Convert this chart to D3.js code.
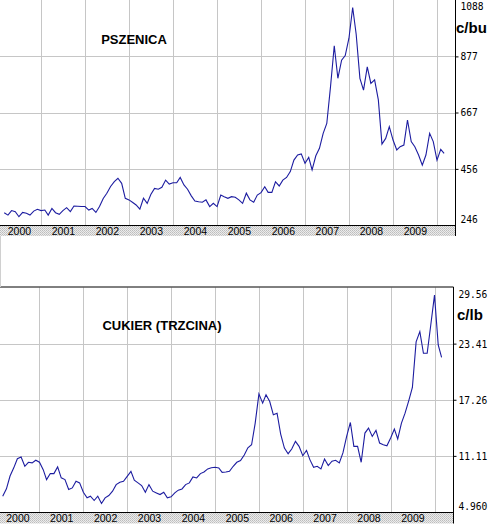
<!DOCTYPE html>
<html>
<head>
<meta charset="utf-8">
<script src="https://cdn.jsdelivr.net/npm/d3@7"></script>
<style>
body{margin:0;background:#fff;}
svg{display:block;}
</style>
</head>
<body>
<script>
// monthly points, first one Mar 2000, last one Mar 2010
var firstMonth = new Date(2000, 2, 1);
var years = [2000,2001,2002,2003,2004,2005,2006,2007,2008,2009];

// PSZENICA, c/bu
var wheatValues = [
 292,283,300,296,277,293,290,283,298,305,
 300,302,283,308,292,286,300,311,296,317,
 316,315,315,302,308,293,315,345,365,390,
 408,421,402,346,340,330,321,305,346,327,
 360,383,380,387,414,399,404,404,424,396,
 380,355,336,333,331,340,315,327,315,358,
 352,346,352,350,340,327,365,340,331,358,
 367,389,368,368,408,392,414,424,446,489,
 508,512,477,499,452,505,533,589,626,764,
 917,795,863,880,945,1060,960,795,751,838,
 776,789,714,549,570,614,564,527,539,545,
 639,558,539,508,470,508,589,558,489,529,
 514];
var wheatTicks = [246,456,667,877,1088];
var wheatTickLabels = ["246","456","667","877","1088"];

// CUKIER (TRZCINA), c/lb
var sugarValues = [
 6.69,7.5,8.9,9.8,10.8,10.99,9.97,10.41,10.34,10.63,
 10.41,9.6,8.51,9.17,9.17,9.9,8.7,8.51,7.42,7.6,
 8.33,8.15,7.13,6.51,6.69,6.22,6.69,5.89,6.51,6.76,
 7.24,7.96,8.22,8.33,8.87,9.42,8.44,8.15,7.86,7.13,
 7.96,7.24,7.05,6.87,7.13,6.51,6.62,7.05,7.35,7.49,
 7.96,8.15,8.8,8.69,9.17,9.35,9.68,9.8,9.86,9.79,
 9.31,9.35,9.42,9.97,10.41,10.6,11.2,12.0,12.33,14.7,
 17.91,16.89,17.8,17.07,15.61,15.79,13.5,11.97,11.35,11.86,
 12.7,12.15,11.13,11.71,10.7,9.86,9.97,9.68,10.77,10.05,
 10.52,10.63,10.34,11.43,13.24,14.77,12.15,12.15,10.41,13.61,
 14.15,13.24,13.9,12.52,12.33,12.22,13.06,14.05,12.97,14.7,
 15.79,17.17,18.6,23.6,24.72,22.35,22.35,25.45,28.72,23.26,
 21.91];
var sugarTicks = [4.96,11.11,17.26,23.41,29.56];
var sugarTickLabels = ["4.960","11.11","17.26","23.41","29.56"];

const width = 489;
const height = 526;

let svg = d3.select('body')
  .append('svg')
    .attr('width', width)
    .attr('height', height);

// dithered grey of the date band
let pat = svg.append('defs').append('pattern')
  .attr('id', 'dither')
  .attr('width', 2).attr('height', 2)
  .attr('patternUnits', 'userSpaceOnUse');
pat.append('rect').attr('width', 2).attr('height', 2).attr('fill', '#ebebeb');
pat.append('rect').attr('width', 1).attr('height', 1).attr('fill', '#bdbdbd');
pat.append('rect').attr('x', 1).attr('y', 1).attr('width', 1).attr('height', 1).attr('fill', '#c9c9c9');

function makePanel(opt){
  const plotRight = opt.right;
  const dates = opt.values.map((v, i) => d3.timeMonth.offset(firstMonth, i));
  const xScale = d3.scaleTime()
    .domain([new Date(2000, 0, 1), new Date(2010, 0, 1)])
    .range(opt.xRange);
  const yScale = d3.scaleLinear()
    .domain([opt.ticks[0], opt.ticks[opt.ticks.length - 1]])
    .range([opt.bottom, opt.top]);

  let g = svg.append('g');

  // grid
  g.append('g').selectAll('line.h')
    .data(opt.ticks.slice(1, -1))
    .enter().append('line')
      .attr('x1', 0).attr('x2', plotRight)
      .attr('y1', d => Math.round(yScale(d)) + 0.5)
      .attr('y2', d => Math.round(yScale(d)) + 0.5)
      .attr('stroke', '#c6c6c6');
  g.append('g').selectAll('line.v')
    .data(d3.timeYear.range(new Date(2001, 0, 1), new Date(2010, 0, 2)))
    .enter().append('line')
      .attr('x1', d => Math.round(xScale(d)) + 0.5)
      .attr('x2', d => Math.round(xScale(d)) + 0.5)
      .attr('y1', opt.top).attr('y2', opt.bottom + 3)
      .attr('stroke', '#c6c6c6');

  // date band
  g.append('rect')
    .attr('x', 0).attr('y', opt.bottom)
    .attr('width', plotRight).attr('height', opt.band)
    .attr('fill', 'url(#dither)');
  g.append('line')
    .attr('x1', 0).attr('x2', plotRight)
    .attr('y1', opt.bottom + 0.5).attr('y2', opt.bottom + 0.5)
    .attr('stroke', '#000');
  g.append('line')
    .attr('x1', plotRight).attr('x2', plotRight)
    .attr('y1', opt.top - (opt.topLine ? 0.5 : 0)).attr('y2', opt.bottom + opt.band)
    .attr('stroke', '#000');
  if (opt.topLine) {
    g.append('line')
      .attr('x1', 0).attr('x2', plotRight)
      .attr('y1', opt.top - 0.5).attr('y2', opt.top - 0.5)
      .attr('stroke', '#000');
  }

  // year labels, centred in each year
  let xAxis = g.append('g')
    .attr('transform', `translate(0, ${opt.bottom + opt.band / 2 + 0.5})`)
    .call(d3.axisBottom(xScale)
      .tickValues(years.map(y => new Date(y, 6, 1)))
      .tickFormat(d3.timeFormat('%Y'))
      .tickSize(0));
  xAxis.select('.domain').remove();
  xAxis.selectAll('text')
    .attr('y', 0).attr('dy', '0.36em')
    .attr('fill', '#000')
    .style('font-family', '"Liberation Sans", Arial, sans-serif')
    .style('font-size', '10.5px');

  // value labels on the right
  let yAxis = g.append('g')
    .attr('transform', `translate(${plotRight}, 0)`)
    .call(d3.axisRight(yScale)
      .tickValues(opt.ticks)
      .tickFormat((d, i) => opt.labels[i])
      .tickSize(3)
      .tickPadding(opt.pad));
  yAxis.select('.domain').remove();
  yAxis.selectAll('.tick line')
    .attr('stroke', (d, i) => (i == 0 || i == opt.ticks.length - 1) ? 'none' : '#000');
  yAxis.selectAll('text')
    .attr('fill', '#000')
    .attr('dy', (d, i) => i == 0 ? '-0.25em' : (i == opt.ticks.length - 1 ? '1.0em' : '0.36em'))
    .style('font-family', '"DejaVu Sans Mono", monospace')
    .style('font-size', '9.6px');

  // series line
  const line = d3.line()
    .x((d, i) => xScale(dates[i]))
    .y(d => yScale(d));
  g.append('path')
    .datum(opt.values)
    .attr('d', line)
    .attr('fill', 'none')
    .attr('stroke', '#1c1ca0')
    .attr('stroke-width', 1.1);

  // title and unit
  g.append('text')
    .attr('x', opt.titleX).attr('y', opt.titleY)
    .attr('text-anchor', 'middle')
    .style('font-family', '"Liberation Sans", Arial, sans-serif')
    .style('font-weight', 'bold')
    .style('font-size', '13px')
    .text(opt.title);
  g.append('text')
    .attr('x', opt.unitX).attr('y', opt.unitY)
    .style('font-family', '"Liberation Sans", Arial, sans-serif')
    .style('font-weight', 'bold')
    .style('font-size', '15px')
    .text(opt.unit);
}

makePanel({
  values: wheatValues, ticks: wheatTicks, labels: wheatTickLabels,
  xRange: [-3, 437], right: 455.5, pad: 2,
  top: 0, bottom: 225, band: 11, topLine: false,
  title: 'PSZENICA', titleX: 134, titleY: 44, unit: 'c/bu', unitX: 456, unitY: 33
});

makePanel({
  values: sugarValues, ticks: sugarTicks, labels: sugarTickLabels,
  xRange: [-4.5, 434.5], right: 453.5, pad: 2,
  top: 287.5, bottom: 512, band: 11.5, topLine: true,
  title: 'CUKIER (TRZCINA)', titleX: 162, titleY: 329.5, unit: 'c/lb', unitX: 457, unitY: 319.5
});

// faint frame edge between the panels
svg.append('line')
  .attr('x1', 0.5).attr('x2', 0.5)
  .attr('y1', 236).attr('y2', 287)
  .attr('stroke', '#d0d0d0');
</script>
</body>
</html>
